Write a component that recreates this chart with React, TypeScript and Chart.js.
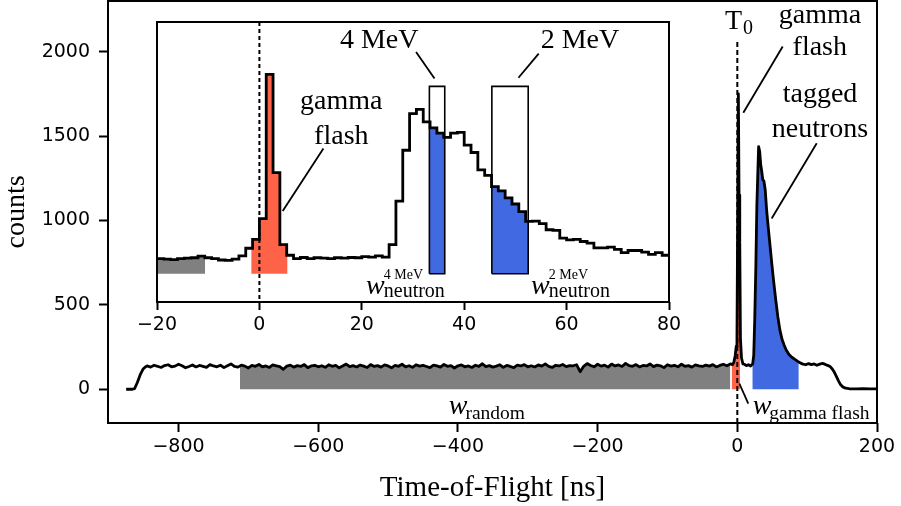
import React, { useEffect, useRef } from "react";
import { Chart, registerables } from "chart.js";

Chart.register(...registerables);

const SERIF = '"Liberation Serif", "Times New Roman", serif';
const SANS = '"DejaVu Sans", sans-serif';

// ---------------- main spectrum (Time-of-Flight in ns, counts) ----------------
const riseTof = [-875, -866, -863, -859, -855, -851, -848];
const riseCounts = [0, 0, 3, 40, 85, 118, 130];

const baselineStart = -845;
const baselineStep = 5;
const baselineCounts = [
  138, 131, 142, 136, 129, 140, 145, 133, 137, 148,
  139, 127, 135, 144, 132, 141, 136, 130, 146, 138,
  133, 142, 128, 139, 150, 135, 131, 143, 137, 126,
  141, 136, 147, 132, 138, 129, 144, 139, 134, 118,
  137, 143, 131, 140, 135, 146, 128, 138, 142, 133,
  139, 130, 145, 136, 141, 127, 138, 149, 134, 140,
  132, 143, 137, 129, 146, 135, 140, 131, 144, 138,
  127, 141, 136, 148, 133, 139, 130, 145, 137, 142,
  135, 128, 143, 138, 131, 147, 136, 140, 126, 139,
  144, 133, 138, 129, 142, 136, 151, 134, 140, 131,
  137, 145, 130, 141, 135, 128, 143, 138, 146, 133,
  139, 132, 144, 137, 150, 135, 129, 142, 138, 147,
  134, 140, 139, 145, 104, 136, 152, 141, 133, 148,
  137, 143, 131, 149, 138, 144, 135, 153, 140, 136,
  146, 132, 141, 138, 150, 134, 143, 139, 128, 145,
  137, 142, 133, 148, 136, 140, 131, 144, 139, 135,
  143, 137, 146, 132, 141, 148, 139, 150,
];

const peakTof = [
  -7, -5, -3, -1.5, -0.5, 0.5, 1.5, 2.5, 3.5, 4.5,
  6, 8, 10, 13, 16, 19, 22, 23.5, 25, 26.5,
  28, 29.5, 30.5, 32, 33.5, 35, 36.5, 38, 40, 42,
  44.5, 47, 49.5, 52, 55, 58, 61, 64, 67, 70,
  74, 78, 82, 86, 90, 94, 98, 102, 106, 110,
  114, 118, 122, 126, 130, 133, 136, 139, 142, 145,
  148, 151, 155, 160, 170, 180, 190, 200,
];
const peakCounts = [
  146, 158, 200, 255, 300, 1000, 1750, 1150, 870, 300,
  185, 150, 148, 140, 145, 138, 150, 200, 420, 720,
  1090, 1300, 1437, 1410, 1330, 1290, 1240, 1235, 1180, 1060,
  950, 845, 740, 640, 530, 430, 350, 296, 262, 232,
  206, 190, 178, 167, 156, 149, 145, 152, 146, 150,
  142, 149, 153, 147, 140, 134, 120, 100, 75, 48,
  26, 14, 6, 3, 2, 3, 2, 2,
];

const mainXTicks = [-800, -600, -400, -200, 0, 200];
const mainYTicks = [0, 500, 1000, 1500, 2000];
const randomWindow = [-712, -10];
const gammaWindow = [-8, 4];
const neutronWindow = [21.5, 88];
const t0LineTop = 2057;

// ---------------- inset (zoom, 4/3 ns bins) ----------------
const insetBinStart = -20;
const insetBinWidth = 4 / 3;
const insetCounts = [
  155, 153, 151, 155, 157, 158, 164, 158, 155, 150,
  149, 153, 165, 192, 224, 298, 813, 462, 205, 167,
  155, 159, 155, 158, 157, 155, 158, 157, 159, 158,
  162, 160, 165, 160, 205, 360, 542, 673, 688, 643,
  622, 603, 588, 603, 606, 560, 534, 472, 452, 412,
  397, 372, 350, 323, 288, 289, 280, 258, 256, 228,
  222, 224, 216, 210, 193, 193, 196, 188, 176, 184,
  184, 178, 170, 176, 167,
];
const insetXTicks = [-20, 0, 20, 40, 60, 80];
const insetRandomWindow = [-20, -10.6];
const insetGammaWindow = [-1.6, 5.5];
const window4MeV = [33.2, 36.2];
const window2MeV = [45.4, 52.5];
const windowFloor = 101;
const windowTop = 770;

// ---------------- annotations ----------------
type Note = {
  x: number; y: number; text: string; size: number; align?: CanvasTextAlign; italic?: boolean;
  gap?: number; sub?: string; subSize?: number; subDy?: number; sup?: string; supSize?: number; supDy?: number;
};
type Pointer = [number, number, number, number];

const mainNotes: Note[] = [
  { x: -17.6, y: 2135, text: "T", size: 28, align: "left", gap: 1, sub: "0", subSize: 20, subDy: 5 },
  { x: 118.4, y: 2172, text: "gamma", size: 28 },
  { x: 118.1, y: 1978, text: "flash", size: 28 },
  { x: 118.4, y: 1700, text: "tagged", size: 28 },
  { x: 118.4, y: 1494, text: "neutrons", size: 28 },
  { x: -413.2, y: -148, text: "w", size: 28, italic: true, align: "left", gap: -2, sub: "random", subSize: 19.5, subDy: 5 },
  { x: 22.0, y: -148, text: "w", size: 28, italic: true, align: "left", gap: -2, sub: "gamma flash", subSize: 19.5, subDy: 5 },
];
const mainPointers: Pointer[] = [
  [8.6, 1638, 65, 2030],
  [49.2, 1012, 113.7, 1457],
  [2.9, 34, 15.7, -85],
];

const insetNotes: Note[] = [
  { x: 16.0, y: 691, text: "gamma", size: 28 },
  { x: 16.0, y: 566, text: "flash", size: 28 },
  { x: 23.4, y: 908, text: "4 MeV", size: 28 },
  { x: 62.6, y: 908, text: "2 MeV", size: 28 },
  { x: 20.84, y: 30, text: "w", size: 28, italic: true, align: "left", gap: -1, sub: "neutron", subSize: 20, subDy: 3, sup: "4 MeV", supSize: 14, supDy: -15 },
  { x: 53.07, y: 30, text: "w", size: 28, italic: true, align: "left", gap: -1, sub: "neutron", subSize: 20, subDy: 3, sup: "2 MeV", supSize: 14, supDy: -15 },
];
const insetPointers: Pointer[] = [
  [4.55, 325, 12.5, 548],
  [30.6, 893, 34.2, 798],
  [54.55, 887, 50.6, 801],
];

// ---------------- helpers ----------------
const mainTof = [...riseTof, ...baselineCounts.map((_, i) => baselineStart + i * baselineStep), ...peakTof];
const mainCounts = [...riseCounts, ...baselineCounts, ...peakCounts];
const mainPts = mainTof.map((x, i) => ({ x, y: mainCounts[i] }));

function interp(x: number) {
  for (let i = 0; i < mainTof.length - 1; i++) {
    if (x >= mainTof[i] && x <= mainTof[i + 1]) {
      const f = (x - mainTof[i]) / (mainTof[i + 1] - mainTof[i]);
      return mainCounts[i] + f * (mainCounts[i + 1] - mainCounts[i]);
    }
  }
  return 0;
}
function mainWindow([a, b]: number[]) {
  const pts = [{ x: a, y: interp(a) }];
  mainTof.forEach((x, i) => { if (x > a && x < b) pts.push({ x, y: mainCounts[i] }); });
  pts.push({ x: b, y: interp(b) });
  return pts;
}

const insetEdges = insetCounts.map((_, k) => insetBinStart + k * insetBinWidth);
const insetEnd = insetBinStart + insetCounts.length * insetBinWidth;
const histPts = [...insetEdges.map((x, k) => ({ x, y: insetCounts[k] })), { x: insetEnd, y: insetCounts[insetCounts.length - 1] }];
function binValue(t: number) {
  let k = Math.floor((t - insetBinStart) / insetBinWidth + 1e-9);
  k = Math.max(0, Math.min(insetCounts.length - 1, k));
  return insetCounts[k];
}
function stepWindow([a, b]: number[]) {
  const pts = [{ x: a, y: binValue(a) }];
  insetEdges.forEach((e, k) => { if (e > a + 1e-9 && e < b - 1e-9) pts.push({ x: e, y: insetCounts[k] }); });
  pts.push({ x: b, y: binValue(b - 1e-6) });
  return pts;
}
function boxPts([a, b]: number[]) {
  return [
    { x: a, y: windowFloor }, { x: a, y: windowTop }, { x: b, y: windowTop },
    { x: b, y: windowFloor }, { x: a, y: windowFloor },
  ];
}

const fmt = (v: number | string) => {
  const n = Number(v);
  return n < 0 ? "\u2212" + Math.abs(n) : String(n);
};

function drawNotes(chart: any, notes: Note[], pointers: Pointer[]) {
  const { ctx } = chart;
  const xs = chart.scales.x, ys = chart.scales.y;
  ctx.save();
  ctx.strokeStyle = "#000";
  ctx.fillStyle = "#000";
  ctx.lineWidth = 1.8;
  pointers.forEach(([x0, y0, x1, y1]) => {
    ctx.beginPath();
    ctx.moveTo(xs.getPixelForValue(x0), ys.getPixelForValue(y0));
    ctx.lineTo(xs.getPixelForValue(x1), ys.getPixelForValue(y1));
    ctx.stroke();
  });
  ctx.textBaseline = "alphabetic";
  notes.forEach((n) => {
    const px = xs.getPixelForValue(n.x);
    const py = ys.getPixelForValue(n.y);
    ctx.font = `${n.italic ? "italic " : ""}${n.size}px ${SERIF}`;
    const align = n.align ?? "center";
    ctx.textAlign = align;
    ctx.fillText(n.text, px, py);
    const w = ctx.measureText(n.text).width;
    const after = (align === "left" ? px + w : px + w / 2) + (n.gap ?? 0);
    ctx.textAlign = "left";
    if (n.sub) {
      ctx.font = `${n.subSize}px ${SERIF}`;
      ctx.fillText(n.sub, after, py + (n.subDy ?? 0));
    }
    if (n.sup) {
      ctx.font = `${n.supSize}px ${SERIF}`;
      ctx.fillText(n.sup, after, py + (n.supDy ?? 0));
    }
  });
  ctx.restore();
}

function frame(chart: any) {
  const { ctx, chartArea: a } = chart;
  ctx.save();
  ctx.strokeStyle = "#000";
  ctx.lineWidth = 2;
  ctx.strokeRect(a.left, a.top, a.right - a.left, a.bottom - a.top);
  ctx.restore();
}

const tickFont = { family: SANS, size: 19 };

export default function App() {
  const mainRef = useRef<HTMLCanvasElement>(null);
  const insetRef = useRef<HTMLCanvasElement>(null);

  useEffect(() => {
    const main = new Chart(mainRef.current as HTMLCanvasElement, {
      type: "line",
      data: {
        datasets: [
          { label: "spectrum", data: mainPts, borderColor: "#000", borderWidth: 2.8, pointRadius: 0, fill: false, tension: 0, borderJoinStyle: "round" },
          { label: "T0", data: [{ x: 0, y: t0LineTop }, { x: 0, y: -200 }], borderColor: "#000", borderWidth: 2, borderDash: [5, 3], pointRadius: 0, fill: false },
          { label: "random", data: mainWindow(randomWindow), borderWidth: 0, borderColor: "rgba(0,0,0,0)", backgroundColor: "#808080", fill: { value: 0 }, pointRadius: 0 },
          { label: "gamma", data: mainWindow(gammaWindow), borderWidth: 0, borderColor: "rgba(0,0,0,0)", backgroundColor: "#ff6347", fill: { value: 0 }, pointRadius: 0 },
          { label: "neutron", data: mainWindow(neutronWindow), borderWidth: 0, borderColor: "rgba(0,0,0,0)", backgroundColor: "#4169e1", fill: { value: 0 }, pointRadius: 0 },
        ] as any,
      },
      options: {
        animation: false,
        responsive: false,
        devicePixelRatio: 1,
        layout: { padding: { left: 0, top: 1, right: 24, bottom: 0 } },
        plugins: { legend: { display: false }, tooltip: { enabled: false } },
        scales: {
          x: {
            type: "linear", min: -901, max: 200,
            afterFit: (s: any) => { s.height = 83; s.paddingLeft = 0; s.paddingRight = 0; },
            afterBuildTicks: (s: any) => { s.ticks = mainXTicks.map((v) => ({ value: v })); },
            ticks: { font: tickFont, color: "#000", padding: 4, autoSkip: false, maxRotation: 0, callback: fmt },
            grid: { drawOnChartArea: false, tickLength: 9, tickWidth: 2, tickColor: "#000" },
            border: { display: false },
            title: { display: true, text: "Time-of-Flight [ns]", color: "#000", font: { family: SERIF, size: 29 }, padding: { top: 0, bottom: 0 } },
          },
          y: {
            type: "linear", min: -200, max: 2300,
            afterFit: (s: any) => { s.width = 108; s.paddingTop = 0; s.paddingBottom = 0; },
            afterBuildTicks: (s: any) => { s.ticks = mainYTicks.map((v) => ({ value: v })); },
            ticks: { font: tickFont, color: "#000", padding: 9, autoSkip: false, callback: fmt },
            grid: { drawOnChartArea: false, tickLength: 9, tickWidth: 2, tickColor: "#000" },
            border: { display: false },
            title: { display: true, text: "counts", color: "#000", font: { family: SERIF, size: 28 }, padding: { top: 0, bottom: 0 } },
          },
        },
      } as any,
      plugins: [
        {
          id: "mainDeco",
          beforeDraw: (c: any) => {
            c.ctx.save();
            c.ctx.fillStyle = "#fff";
            c.ctx.fillRect(0, 0, c.width, c.height);
            c.ctx.restore();
          },
          afterDraw: (c: any) => {
            frame(c);
            drawNotes(c, mainNotes, mainPointers);
          },
        },
      ],
    });

    const inset = new Chart(insetRef.current as HTMLCanvasElement, {
      type: "line",
      data: {
        datasets: [
          { label: "hist", data: histPts, stepped: true, borderColor: "#000", borderWidth: 2.8, pointRadius: 0, fill: false, borderJoinStyle: "miter" },
          { label: "box4", data: boxPts(window4MeV), borderColor: "#000", borderWidth: 1.6, pointRadius: 0, fill: false },
          { label: "box2", data: boxPts(window2MeV), borderColor: "#000", borderWidth: 1.6, pointRadius: 0, fill: false },
          { label: "zero", data: [{ x: 0, y: 1000 }, { x: 0, y: 0 }], borderColor: "#000", borderWidth: 2, borderDash: [4, 3], pointRadius: 0, fill: false },
          { label: "grayFill", data: stepWindow(insetRandomWindow), stepped: true, borderWidth: 0, borderColor: "rgba(0,0,0,0)", backgroundColor: "#808080", fill: { value: windowFloor }, pointRadius: 0 },
          { label: "redFill", data: stepWindow(insetGammaWindow), stepped: true, borderWidth: 0, borderColor: "rgba(0,0,0,0)", backgroundColor: "#ff6347", fill: { value: windowFloor }, pointRadius: 0 },
          { label: "blue4", data: stepWindow(window4MeV), stepped: true, borderWidth: 0, borderColor: "rgba(0,0,0,0)", backgroundColor: "#4169e1", fill: { value: windowFloor }, pointRadius: 0 },
          { label: "blue2", data: stepWindow(window2MeV), stepped: true, borderWidth: 0, borderColor: "rgba(0,0,0,0)", backgroundColor: "#4169e1", fill: { value: windowFloor }, pointRadius: 0 },
        ] as any,
      },
      options: {
        animation: false,
        responsive: false,
        devicePixelRatio: 1,
        layout: { padding: { left: 157, top: 22, right: 232, bottom: 154 } },
        plugins: { legend: { display: false }, tooltip: { enabled: false } },
        scales: {
          x: {
            type: "linear", min: -20, max: 80,
            afterFit: (s: any) => { s.height = 50; s.paddingLeft = 0; s.paddingRight = 0; },
            afterBuildTicks: (s: any) => { s.ticks = insetXTicks.map((v) => ({ value: v })); },
            ticks: { font: tickFont, color: "#000", padding: 4, autoSkip: false, maxRotation: 0, callback: fmt },
            grid: { drawOnChartArea: false, tickLength: 8, tickWidth: 2, tickColor: "#000" },
            border: { display: false },
          },
          y: { type: "linear", display: false, min: 0, max: 1000 },
        },
      } as any,
      plugins: [
        {
          id: "insetDeco",
          beforeDatasetsDraw: (c: any) => {
            const a = c.chartArea;
            c.ctx.save();
            c.ctx.fillStyle = "#fff";
            c.ctx.fillRect(a.left, a.top, a.right - a.left, a.bottom - a.top);
            c.ctx.restore();
          },
          afterDraw: (c: any) => {
            frame(c);
            drawNotes(c, insetNotes, insetPointers);
          },
        },
      ],
    });

    return () => {
      main.destroy();
      inset.destroy();
    };
  }, []);

  return (
    <div style={{ position: "fixed", left: 0, top: 0, width: 901, height: 506, background: "#fff" }}>
      <canvas ref={mainRef} width={901} height={506} style={{ position: "absolute", left: 0, top: 0, width: 901, height: 506 }} />
      <canvas ref={insetRef} width={901} height={506} style={{ position: "absolute", left: 0, top: 0, width: 901, height: 506 }} />
    </div>
  );
}
